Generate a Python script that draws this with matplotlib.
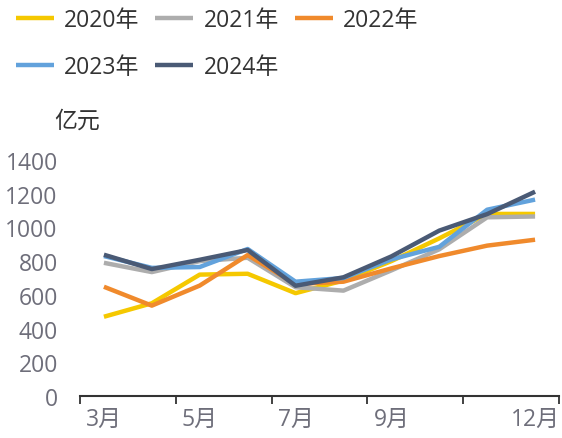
import matplotlib.pyplot as plt
import numpy as np

plt.rcParams['font.family'] = ['Open Sans', 'Noto Sans CJK SC', 'DejaVu Sans']

# monthly values, 3月..12月
months = ['3月', '4月', '5月', '6月', '7月', '8月', '9月', '10月', '11月', '12月']
shown_labels = {0: '3月', 2: '5月', 4: '7月', 6: '9月', 9: '12月'}

y2020 = [470, 550, 720, 725, 610, 685, 800, 935, 1080, 1080]
y2021 = [790, 735, 800, 820, 645, 625, 745, 870, 1060, 1065]
y2022 = [648, 536, 655, 836, 664, 678, 757, 830, 892, 927]
y2023 = [830, 760, 765, 872, 678, 700, 810, 885, 1105, 1165]
y2024 = [838, 753, 808, 866, 654, 704, 828, 981, 1079, 1212]

series = [
    ('2020年', y2020, '#F5C800'),
    ('2021年', y2021, '#ADADAD'),
    ('2022年', y2022, '#F08A2C'),
    ('2023年', y2023, '#62A2DC'),
    ('2024年', y2024, '#4A5A75'),
]

fig = plt.figure(figsize=(5.62, 4.39), dpi=100)
ax = fig.add_axes([0.1423, 0.0957, 0.8524, 0.5376])

x = np.arange(len(months))
handles = []
for name, vals, col in series:
    h, = ax.plot(x, vals, color=col, lw=3.2, label=name, solid_capstyle='butt')
    handles.append(h)

ax.set_xlim(-0.5, len(months) - 0.5)
ax.set_ylim(0, 1400)
ax.set_yticks(np.arange(0, 1401, 200))

ax.set_xticks(list(shown_labels.keys()))
ax.set_xticklabels(list(shown_labels.values()))
ax.set_xticks(np.arange(-0.5, len(months), 2), minor=True)
ax.tick_params(axis='x', which='major', length=0, pad=8, labelsize=16.5, labelcolor='#6E6E7A')
ax.tick_params(axis='x', which='minor', length=6, width=1.3, color='#333333', direction='out')
ax.tick_params(axis='y', length=0, pad=16, labelsize=16.5, labelcolor='#6E6E7A')

for s in ['top', 'right', 'left']:
    ax.spines[s].set_visible(False)
ax.spines['bottom'].set_color('#333333')
ax.spines['bottom'].set_linewidth(1.5)

fig.text(0.096, 0.722, '亿元', fontsize=16.5, color='#333333', va='center')

order = [0, 3, 1, 4, 2]
fig.legend([handles[i] for i in order], [series[i][0] for i in order],
           loc='upper left', bbox_to_anchor=(0.028, 0.98), ncol=3, frameon=False,
           fontsize=16.5, handlelength=1.65, handletextpad=0.45, columnspacing=0.7,
           labelspacing=1.0, labelcolor='#333333', borderaxespad=0, borderpad=0)

fig.savefig('out.png', dpi=100)
